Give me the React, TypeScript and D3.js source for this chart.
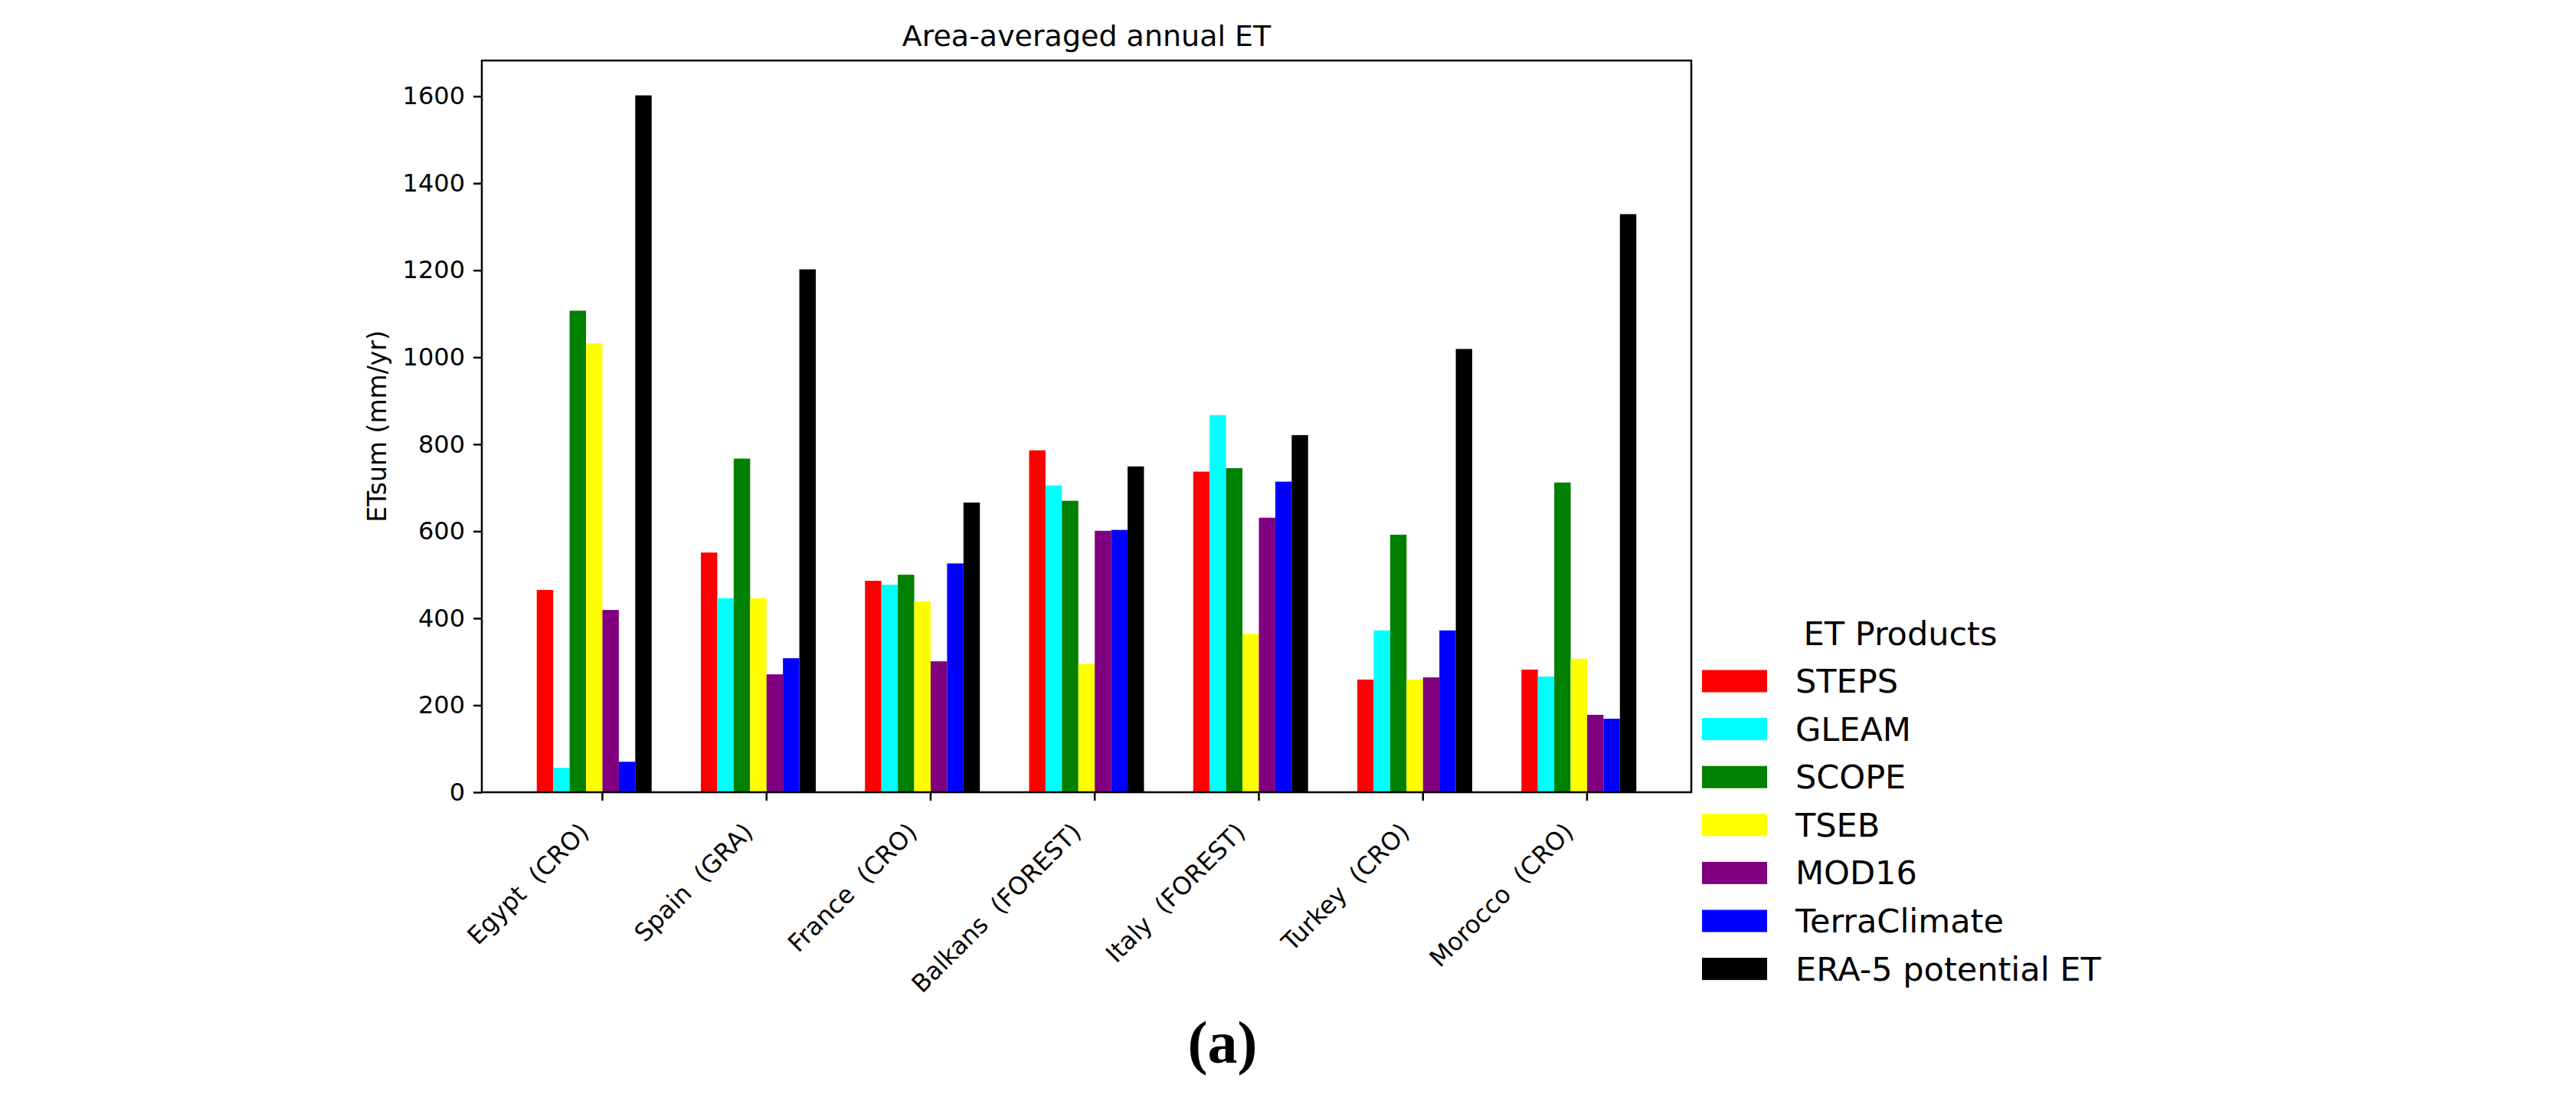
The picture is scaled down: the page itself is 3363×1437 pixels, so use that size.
import React, { useEffect, useRef } from 'react';
import * as d3 from 'd3';

const regions = [
    'Egypt  (CRO)',
    'Spain  (GRA)',
    'France  (CRO)',
    'Balkans  (FOREST)',
    'Italy  (FOREST)',
    'Turkey  (CRO)',
    'Morocco  (CRO)',
];

const products = ['STEPS', 'GLEAM', 'SCOPE', 'TSEB', 'MOD16', 'TerraClimate', 'ERA-5 potential ET'];
const productColors = ['#ff0000', '#00ffff', '#008000', '#ffff00', '#800080', '#0000ff', '#000000'];

// annual ET (mm/yr), one value per region
const steps = [465, 551, 486, 786, 737, 259, 282];
const gleam = [56, 446, 477, 705, 867, 372, 266];
const scope = [1107, 767, 500, 670, 745, 592, 712];
const tseb = [1032, 446, 439, 295, 364, 259, 307];
const mod16 = [419, 271, 301, 601, 631, 264, 178];
const terraClimate = [70, 308, 526, 603, 714, 372, 169];
const era5 = [1602, 1202, 666, 749, 821, 1019, 1329];

const yTicks = [0, 200, 400, 600, 800, 1000, 1200, 1400, 1600];

export default function App() {
    const svgRef = useRef<SVGSVGElement>(null);

    useEffect(() => {
        document.body.style.margin = '0';
        if (!svgRef.current) return;

        const width = 3363;
        const height = 1437;
        const svg = d3.select(svgRef.current)
            .attr('width', width)
            .attr('height', height)
            .attr('viewBox', `0 0 ${width} ${height}`);
        svg.selectAll('*').remove();

        const font = 'DejaVu Sans, sans-serif';
        const left = 629, right = 2208, top = 79, bottom = 1034;
        const barW = 0.1;
        const series = [steps, gleam, scope, tseb, mod16, terraClimate, era5];
        const maxVal = d3.max(series.flat()) as number;

        const x = d3.scaleLinear().domain([-0.4 - 0.335, 6.3 + 0.335]).range([left, right]);
        const y = d3.scaleLinear().domain([0, maxVal * 1.05]).range([bottom, top]);

        svg.append('rect').attr('width', width).attr('height', height).attr('fill', '#fff');

        // Bars
        series.forEach((vals, i) => {
            svg.append('g')
                .selectAll('rect')
                .data(vals)
                .enter()
                .append('rect')
                .attr('x', (_, j) => x(j + (i - 4) * barW))
                .attr('width', x(barW) - x(0))
                .attr('y', d => y(d))
                .attr('height', d => y(0) - y(d))
                .attr('fill', productColors[i]);
        });

        // Spines
        svg.append('rect')
            .attr('x', left)
            .attr('y', top)
            .attr('width', right - left)
            .attr('height', bottom - top)
            .attr('fill', 'none')
            .attr('stroke', '#000')
            .attr('stroke-width', 2.5);

        // Y axis
        const yAxis = svg.append('g')
            .attr('transform', `translate(${left},0)`)
            .call(d3.axisLeft(y).tickValues(yTicks).tickSize(11).tickPadding(11).tickFormat(d3.format('d')));
        yAxis.select('.domain').remove();
        yAxis.selectAll('line').attr('stroke', '#000').attr('stroke-width', 2.5);
        yAxis.selectAll('text')
            .attr('font-family', font)
            .attr('font-size', 32)
            .attr('fill', '#000');

        // X axis ticks and rotated labels
        const xg = svg.append('g');
        regions.forEach((r, j) => {
            const tx = x(j);
            xg.append('line')
                .attr('x1', tx).attr('x2', tx)
                .attr('y1', bottom).attr('y2', bottom + 11)
                .attr('stroke', '#000').attr('stroke-width', 2.5);
            xg.append('text')
                .attr('transform', `translate(${tx - 16},${bottom + 54}) rotate(-45)`)
                .attr('text-anchor', 'end')
                .attr('font-family', font)
                .attr('font-size', 32)
                .style('white-space', 'pre')
                .text(r);
        });

        // Y label
        svg.append('text')
            .attr('transform', `translate(${504},${(top + bottom) / 2}) rotate(-90)`)
            .attr('text-anchor', 'middle')
            .attr('font-family', font)
            .attr('font-size', 33)
            .text('ETsum (mm/yr)');

        // Title
        svg.append('text')
            .attr('x', (left + right) / 2)
            .attr('y', 60)
            .attr('text-anchor', 'middle')
            .attr('font-family', font)
            .attr('font-size', 38)
            .text('Area-averaged annual ET');

        // Legend
        const lg = svg.append('g');
        lg.append('text')
            .attr('x', 2481)
            .attr('y', 842)
            .attr('text-anchor', 'middle')
            .attr('font-family', font)
            .attr('font-size', 43)
            .text('ET Products');
        products.forEach((p, i) => {
            const cy = 889 + i * 62.6;
            lg.append('rect')
                .attr('x', 2222)
                .attr('y', cy - 14.5)
                .attr('width', 85)
                .attr('height', 29)
                .attr('fill', productColors[i]);
            lg.append('text')
                .attr('x', 2344)
                .attr('y', cy + 15)
                .attr('font-family', font)
                .attr('font-size', 43)
                .text(p);
        });

        // Panel caption
        svg.append('text')
            .attr('x', 1596)
            .attr('y', 1387)
            .attr('text-anchor', 'middle')
            .attr('font-family', 'Liberation Serif, serif')
            .attr('font-weight', 'bold')
            .attr('font-size', 78)
            .text('(a)');
    }, []);

    return <svg ref={svgRef} style={{ display: 'block' }} />;
}
